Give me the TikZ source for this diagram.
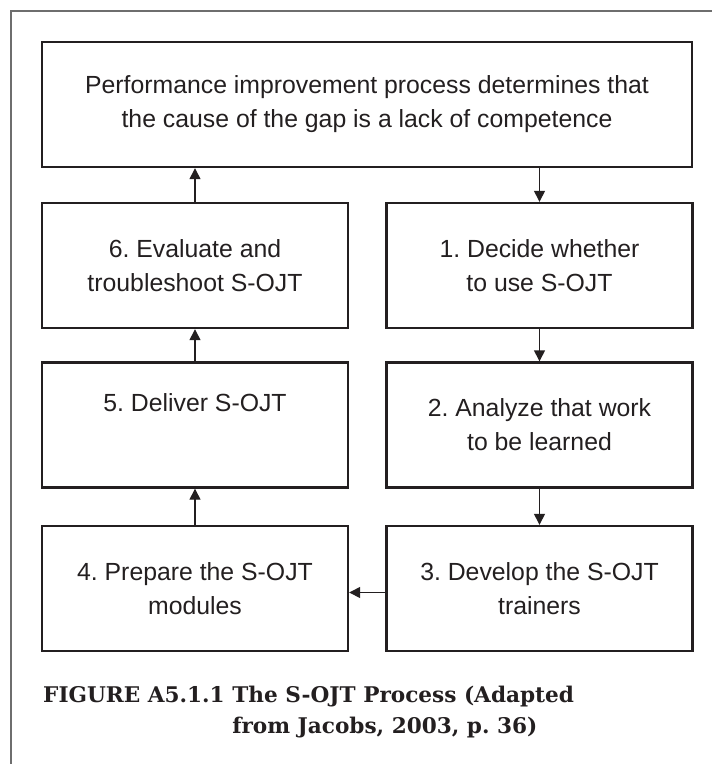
\documentclass[tikz,border=0pt]{standalone}
\usepackage{fontspec}
\usepackage{tikz}
\usetikzlibrary{arrows.meta, positioning}
\newfontfamily\boxfont{Liberation Sans}
\newfontfamily\captionfont{DejaVu Serif}
\definecolor{inkblack}{HTML}{231F20}
\definecolor{framegray}{HTML}{6E6E6E}
\frenchspacing

\begin{document}
\begin{tikzpicture}[x=1pt, y=-1pt,
    box/.style     = {draw=inkblack, line width=2.4pt, align=center, text=inkblack,
                      font=\boxfont\fontsize{24.8}{34}\selectfont, inner sep=0pt,
                      minimum width=306pt, minimum height=125pt},
    arr/.style     = {-{Triangle[length=11pt, width=11pt]}, line width=1.4pt, color=inkblack},
    captext/.style = {font=\captionfont\bfseries\fontsize{21.6}{31}\selectfont,
                      inner sep=0pt, text=inkblack},
  ]
    \useasboundingbox (0,0) rectangle (712,764);

    %% ── Frame ───────────────────────────────────────────────────────────────
    \draw[framegray, line width=1.3pt] (11,764) -- (11,11) -- (712,11);

    %% ── Main nodes ──────────────────────────────────────────────────────────
    \node[box, minimum width=650pt] (gap) at (367, 104.5)
          {Performance improvement process determines that\\the cause of the gap is a lack of competence};
    \node[box] (decide)   at (539.5, 265.5) {1. Decide whether\\to use S-OJT};
    \node[box] (analyze)  at (539.5, 425)   {2. Analyze that work\\to be learned};
    \node[box] (develop)  at (539.5, 588.5) {3. Develop the S-OJT\\trainers};
    \node[box] (prepare)  at (195, 588.5)   {4. Prepare the S-OJT\\modules};
    \node[box] (deliver)  at (195, 425)     {5. Deliver S-OJT\\\strut};
    \node[box] (evaluate) at (195, 265.5)   {6. Evaluate and\\troubleshoot S-OJT};

    %% Down the right column
    \draw[arr] (gap.south -| decide) -- (decide.north);
    \draw[arr] (decide)  -- (analyze);
    \draw[arr] (analyze) -- (develop);

    %% Across the bottom
    \draw[arr] ([yshift=-4pt]develop.west) -- ([yshift=-4pt]prepare.east);

    %% Up the left column
    \draw[arr] (prepare)  -- (deliver);
    \draw[arr] (deliver)  -- (evaluate);
    \draw[arr] (evaluate.north) -- (gap.south -| evaluate);

    %% ── Caption ─────────────────────────────────────────────────────────────
    \node[captext, anchor=base west] (caption) at (43, 702)
          {\begin{tabular}[t]{@{}l@{ }l@{}}
             FIGURE A5.1.1 & The S-OJT Process (Adapted\\
                           & from Jacobs, 2003, p. 36)
           \end{tabular}};

\end{tikzpicture}
\end{document}
